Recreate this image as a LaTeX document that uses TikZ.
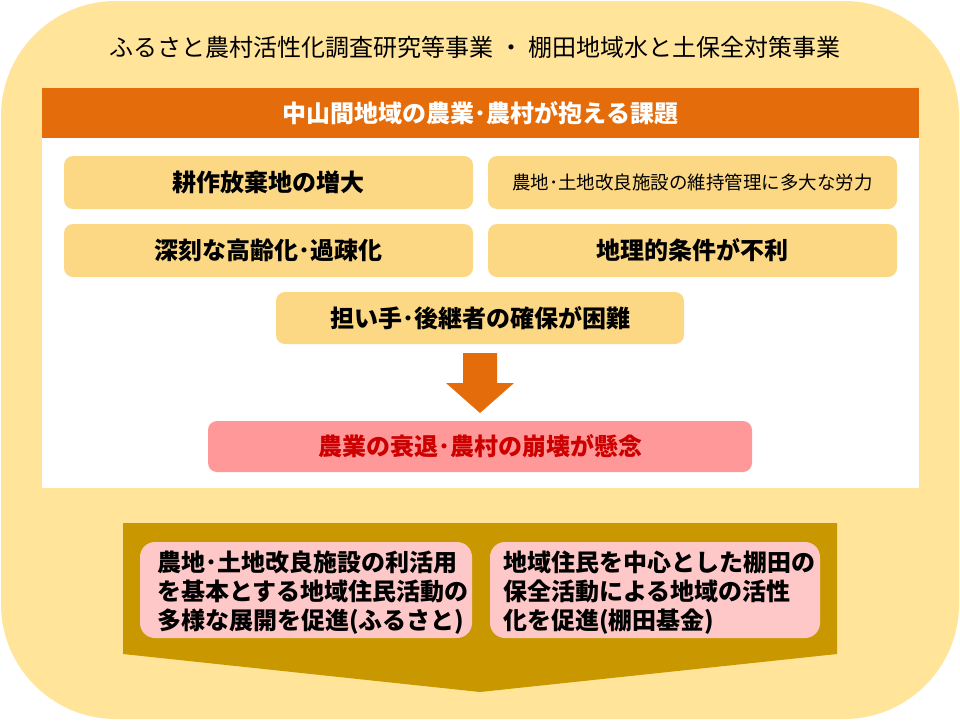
\documentclass[tikz,border=0pt]{standalone}
\usepackage{fontspec}
\setmainfont{Noto Sans CJK JP}
\definecolor{outerc}{HTML}{FFE49A}
\definecolor{boxc}{HTML}{FDD884}
\definecolor{hdrc}{HTML}{E46C0A}
\definecolor{goldc}{HTML}{C99700}
\definecolor{pinkc}{HTML}{FFC8C8}
\definecolor{redboxc}{HTML}{FF9898}
\definecolor{redtxt}{HTML}{CC0000}
\begin{document}
\begin{tikzpicture}[x=1pt,y=-1pt,
  box/.style={fill=boxc, draw=none, rounded corners=9pt, inner sep=0pt},
  bigtxt/.style={font=\fontsize{24}{29}\selectfont\bfseries},
  smalltxt/.style={font=\fontsize{18.5}{22}\selectfont},
  pinkbox/.style={fill=pinkc, draw=none, rounded corners=15pt, inner sep=0pt, align=left, text width=300pt}]
\useasboundingbox (0,0) rectangle (960,720);
\fill[white] (0,0) rectangle (960,720);
\fill[outerc, rounded corners=115pt] (1,1) rectangle (959,719);
% title
\node[font=\fontsize{24}{28}\selectfont, inner sep=0pt] (title) at (475,47) {ふるさと農村活性化調査研究等事業 ・ 棚田地域水と土保全対策事業};
% white panel and header
\fill[white] (42,138) rectangle (919,488);
\node[fill=hdrc, text=white, minimum width=877pt, minimum height=50pt, inner sep=0pt, bigtxt] (hdr) at (480.5,113) {中山間地域の農業･農村が抱える課題};
% issue boxes
\node[box, minimum width=409pt, minimum height=53pt, bigtxt] (b1) at (268.5,182.5) {耕作放棄地の増大};
\node[box, minimum width=409pt, minimum height=53pt, smalltxt] (b2) at (692.5,182.5) {農地･土地改良施設の維持管理に多大な労力};
\node[box, minimum width=409pt, minimum height=53pt, bigtxt] (b3) at (268.5,250.5) {深刻な高齢化･過疎化};
\node[box, minimum width=409pt, minimum height=53pt, bigtxt] (b4) at (692.5,250.5) {地理的条件が不利};
\node[box, minimum width=408pt, minimum height=52pt, bigtxt] (b5) at (480,318) {担い手･後継者の確保が困難};
% arrow
\fill[hdrc] (463,353) -- (497,353) -- (497,383) -- (514,383) -- (480,413) -- (446,383) -- (463,383) -- cycle;
\node[box, fill=redboxc, text=redtxt, minimum width=544pt, minimum height=51pt, bigtxt] (res) at (480,446.5) {農業の衰退･農村の崩壊が懸念};
% bottom pentagon
\fill[goldc] (123,523) -- (837,523) -- (837,654) -- (480,692) -- (123,654) -- cycle;
\fill[pinkc, rounded corners=15pt] (140,542) rectangle (472,638);
\fill[pinkc, rounded corners=15pt] (490,542) rectangle (820,638);
\node[inner sep=0pt, align=left, text width=310pt, bigtxt, anchor=west] (p1) at (157,593) {農地･土地改良施設の利活用\\を基本とする地域住民活動の\\多様な展開を促進(ふるさと)};
\node[inner sep=0pt, align=left, text width=300pt, bigtxt, anchor=west] (p2) at (503,593) {地域住民を中心とした棚田の\\保全活動による地域の活性\\化を促進(棚田基金)};
\end{tikzpicture}
\end{document}
